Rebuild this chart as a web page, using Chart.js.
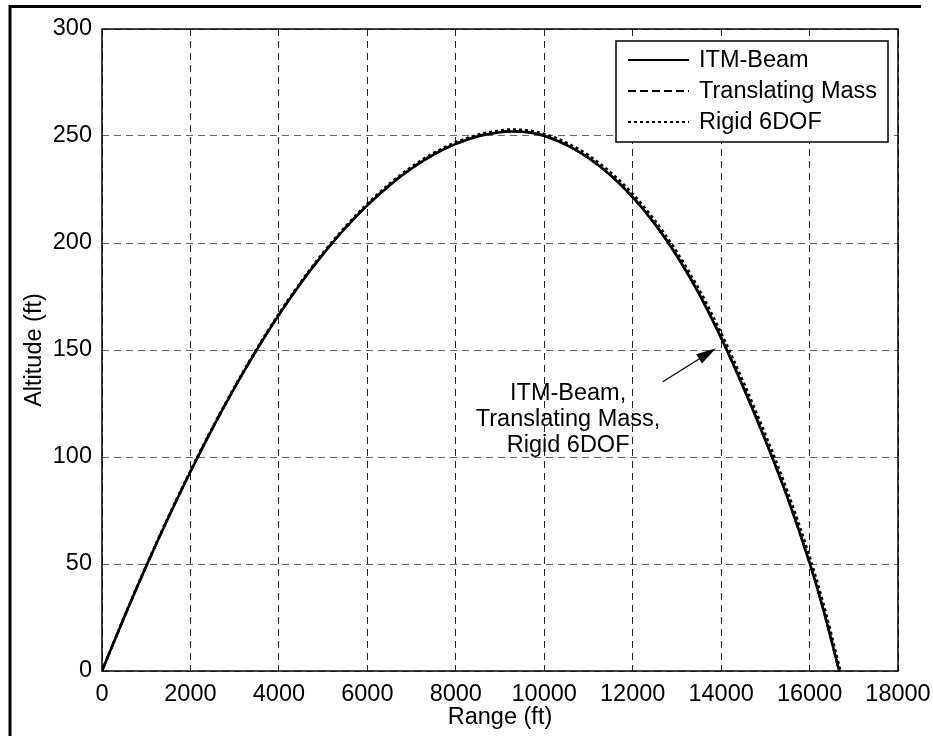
<!DOCTYPE html>
<html>
<head>
<meta charset="utf-8">
<title>Trajectory</title>
<script src="https://cdn.jsdelivr.net/npm/chart.js@4.4.1/dist/chart.umd.min.js"></script>
<style>
  html, body { margin: 0; padding: 0; background: #fff; }
  #wrap { width: 933px; height: 736px; position: relative; }
</style>
</head>
<body>
<div id="wrap"><canvas id="trajChart" width="933" height="736"></canvas></div>
<script>
// Flight path data: range (ft) vs altitude (ft)
const rangeFt = [0, 500, 1000, 1500, 2000, 2500, 3000, 3500, 4000, 4500, 5000, 5500, 6000, 6500, 7000, 7500,
  8000, 8500, 9000, 9200, 9500, 10000, 10500, 11000, 11500, 12000, 12500, 13000, 13500, 14000, 14500,
  15000, 15500, 16000, 16300, 16670];
const itmBeamAlt = [0, 25, 48.9, 71.6, 93.1, 113.4, 132.4, 150.1, 166.4, 181.3, 194.8, 206.9, 217.6, 226.9, 234.8, 241.3,
  246.3, 249.8, 251.7, 252.1, 252, 250, 245.8, 239.7, 231.6, 221.4, 208.9, 193.9, 176.2, 155.6, 132.6,
  107.8, 81, 50.5, 29.5, 0];
const transMassAlt = [0, 25, 48.9, 71.7, 93.2, 113.5, 132.5, 150.2, 166.5, 181.4, 194.9, 207, 217.7, 227, 234.9, 241.4,
  246.4, 249.9, 251.8, 252.2, 252.1, 250.1, 245.9, 239.8, 231.7, 221.5, 209, 194.1, 176.4, 155.8, 132.8,
  108, 81.2, 50.7, 29.7, 0];
const rigidRangeFt = [0, 500, 1000, 1500, 2000, 2500, 3000, 3500, 4000, 4500, 5000, 5500, 6000, 6500, 7000, 7500,
  8000, 8500, 9000, 9200, 9500, 10000, 10500, 11000, 11500, 12000, 12500, 13000, 13500, 14000, 14500,
  15000, 15500, 16000, 16300, 16700];
const rigidAlt = [0, 25.3, 49.3, 72.1, 93.6, 113.9, 132.9, 150.7, 167, 181.9, 195.5, 207.6, 218.3, 227.7, 235.6, 242.1,
  247.1, 250.6, 252.6, 253, 252.9, 251, 246.9, 241, 233, 223, 210.6, 195.8, 178.4, 158, 135.2,
  110.6, 84, 53.5, 32.5, 0];

const seriesNames = ['ITM-Beam', 'Translating Mass', 'Rigid 6DOF'];
const seriesDash = [[], [8, 4], [3, 3]];

const xTicks = [0, 2000, 4000, 6000, 8000, 10000, 12000, 14000, 16000, 18000];
const yTicks = [0, 50, 100, 150, 200, 250, 300];

const noteLines = ['ITM-Beam,', 'Translating Mass,', 'Rigid 6DOF'];
const noteAt = { x: 10540, y: 117.4 };
const arrowFrom = { x: 12680, y: 135.2 };
const arrowTo = { x: 13885, y: 150.8 };

const FONT = '"Liberation Sans", Arial, Helvetica, sans-serif';
const FSIZE = 23.5;

function pts(xs, ys) {
  return xs.map((x, i) => ({ x: x, y: ys[i] }));
}

// outer figure frame (left and top edges)
const framePlugin = {
  id: 'frame',
  afterDraw(chart) {
    const c = chart.ctx;
    c.save();
    c.strokeStyle = '#000';
    c.lineWidth = 3;
    c.beginPath();
    c.moveTo(10, 736);
    c.lineTo(10, 6.5);
    c.lineTo(921, 6.5);
    c.stroke();
    c.restore();
  }
};

// axes box around the plot area
const boxPlugin = {
  id: 'axesBox',
  afterDatasetsDraw(chart) {
    const a = chart.chartArea;
    const c = chart.ctx;
    c.save();
    c.strokeStyle = '#000';
    c.lineWidth = 1.5;
    c.strokeRect(a.left, a.top, a.right - a.left, a.bottom - a.top);
    c.restore();
  }
};

// legend box in the upper right corner
const legendPlugin = {
  id: 'boxLegend',
  afterDraw(chart) {
    const c = chart.ctx;
    const bx = 616, by = 41, bw = 272, bh = 101;
    c.save();
    c.fillStyle = '#fff';
    c.fillRect(bx, by, bw, bh);
    c.strokeStyle = '#000';
    c.lineWidth = 1.5;
    c.strokeRect(bx, by, bw, bh);
    c.font = FSIZE + 'px ' + FONT;
    c.textBaseline = 'middle';
    c.fillStyle = '#000';
    seriesNames.forEach((name, i) => {
      const ry = 60 + i * 31;
      c.beginPath();
      c.setLineDash(seriesDash[i]);
      c.lineWidth = 2;
      c.moveTo(628, ry);
      c.lineTo(689, ry);
      c.stroke();
      c.setLineDash([]);
      c.fillText(name, 699, ry + 1);
    });
    c.restore();
  }
};

// text note with an arrow pointing at the curves
const notePlugin = {
  id: 'note',
  afterDraw(chart) {
    const xs = chart.scales.x, ys = chart.scales.y;
    const c = chart.ctx;
    c.save();
    c.font = FSIZE + 'px ' + FONT;
    c.fillStyle = '#000';
    c.textAlign = 'center';
    c.textBaseline = 'middle';
    const cx = xs.getPixelForValue(noteAt.x);
    const cy = ys.getPixelForValue(noteAt.y);
    noteLines.forEach((t, i) => c.fillText(t, cx, cy + (i - 1) * 26));

    const x0 = xs.getPixelForValue(arrowFrom.x), y0 = ys.getPixelForValue(arrowFrom.y);
    const x1 = xs.getPixelForValue(arrowTo.x), y1 = ys.getPixelForValue(arrowTo.y);
    const ang = Math.atan2(y1 - y0, x1 - x0);
    const hl = 20, hw = 5.5;
    const bxp = x1 - hl * Math.cos(ang), byp = y1 - hl * Math.sin(ang);
    c.strokeStyle = '#000';
    c.lineWidth = 1.2;
    c.beginPath();
    c.moveTo(x0, y0);
    c.lineTo(bxp, byp);
    c.stroke();
    c.beginPath();
    c.moveTo(x1, y1);
    c.lineTo(bxp + hw * Math.sin(ang), byp - hw * Math.cos(ang));
    c.lineTo(bxp - hw * Math.sin(ang), byp + hw * Math.cos(ang));
    c.closePath();
    c.fill();
    c.restore();
  }
};

const lineStyle = {
  borderColor: '#000',
  borderWidth: 2.5,
  pointRadius: 0,
  fill: false,
  cubicInterpolationMode: 'monotone'
};

new Chart(document.getElementById('trajChart'), {
  type: 'line',
  data: {
    datasets: [
      { ...lineStyle, label: seriesNames[0], data: pts(rangeFt, itmBeamAlt) },
      { ...lineStyle, label: seriesNames[1], data: pts(rangeFt, transMassAlt), borderDash: seriesDash[1] },
      { ...lineStyle, label: seriesNames[2], data: pts(rigidRangeFt, rigidAlt), borderDash: seriesDash[2] }
    ]
  },
  options: {
    responsive: false,
    animation: false,
    layout: { padding: { top: 29, right: 35, left: 0, bottom: 0 } },
    plugins: { legend: { display: false }, tooltip: { enabled: false } },
    scales: {
      x: {
        type: 'linear',
        min: 0, max: 18000,
        afterFit(s) { s.height = 65; s.paddingLeft = 0; s.paddingRight = 0; },
        afterBuildTicks(s) { s.ticks = xTicks.map(v => ({ value: v })); },
        ticks: {
          autoSkip: false, maxRotation: 0, padding: 9, color: '#000',
          font: { family: FONT, size: FSIZE },
          callback: v => String(v)
        },
        grid: { color: '#222', lineWidth: 1, drawTicks: false },
        border: { display: false, dash: [7, 5] },
        title: {
          display: true, text: 'Range (ft)', color: '#000',
          font: { family: FONT, size: FSIZE }, padding: { top: 0, bottom: 4 }
        }
      },
      y: {
        type: 'linear',
        min: 0, max: 300,
        afterFit(s) { s.width = 102; s.paddingTop = 0; s.paddingBottom = 0; },
        afterBuildTicks(s) { s.ticks = yTicks.map(v => ({ value: v })); },
        ticks: {
          autoSkip: false, padding: 10, color: '#000',
          font: { family: FONT, size: FSIZE },
          callback: v => String(v)
        },
        grid: { color: '#666', lineWidth: 1, drawTicks: false },
        border: { display: false, dash: [7, 5] },
        title: {
          display: true, text: 'Altitude (ft)', color: '#000',
          font: { family: FONT, size: FSIZE }, padding: { top: 20, bottom: 0 }
        }
      }
    }
  },
  plugins: [framePlugin, boxPlugin, notePlugin, legendPlugin]
});
</script>
</body>
</html>
